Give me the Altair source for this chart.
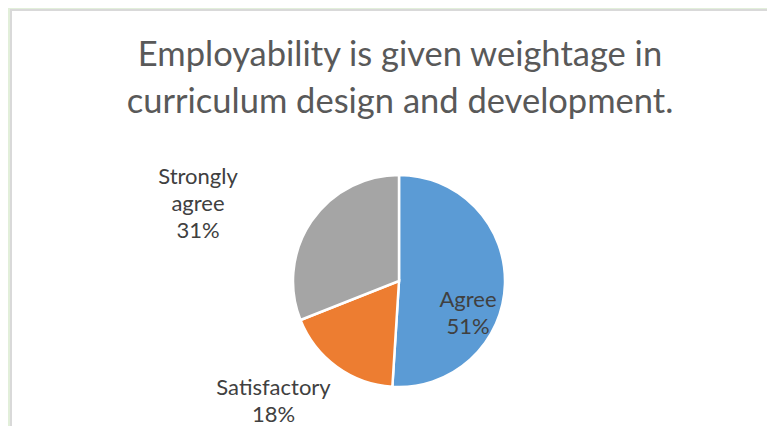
import altair as alt
import pandas as pd

# ---- data ----
categories = ["Agree", "Satisfactory", "Strongly agree"]
percentages = [51, 18, 31]
slice_colors = ["#5b9bd5", "#ed7d31", "#a5a5a5"]
title_lines = ["Employability is given weightage in", "curriculum design and development."]

df = pd.DataFrame({"category": categories, "value": percentages, "order": list(range(len(categories)))})
title_df = pd.DataFrame({"line": title_lines, "idx": list(range(len(title_lines)))})

# ---- layout (chart coordinates; page offset is 8px) ----
W, H = 759, 418
FONT = "Lato"
TITLE_FS = 34.5
LABEL_FS = 22
LABEL_LH = 27
CX, CY, R = 391, 273, 106
GREEN = "#e2efda"
BORDER = "#d9d9d9"

one = alt.Data(values=[{"a": 1}])

green_left = alt.Chart(one).mark_rect(fill=GREEN).encode(
    x=alt.value(0), x2=alt.value(2), y=alt.value(0), y2=alt.value(H)
)
green_top = alt.Chart(one).mark_rect(fill=GREEN).encode(
    x=alt.value(0), x2=alt.value(W), y=alt.value(0), y2=alt.value(1)
)
border_left = alt.Chart(one).mark_rule(color=BORDER, strokeWidth=2).encode(
    x=alt.value(3), y=alt.value(1), y2=alt.value(H)
)
border_top = alt.Chart(one).mark_rule(color=BORDER, strokeWidth=2).encode(
    x=alt.value(2), x2=alt.value(W), y=alt.value(2)
)

title = alt.Chart(title_df).mark_text(
    font=FONT, fontSize=TITLE_FS, color="#595959", align="center", baseline="alphabetic"
).transform_calculate(
    ypix="58 + datum.idx * 47"
).encode(
    x=alt.value(392),
    y=alt.Y("ypix:Q", scale=None),
    text="line:N",
)

pie = alt.Chart(df).mark_arc(outerRadius=R, stroke="white", strokeWidth=2.5).encode(
    theta=alt.Theta("value:Q", stack=True),
    order=alt.Order("order:Q"),
    color=alt.Color("category:N", scale=alt.Scale(domain=categories, range=slice_colors), legend=None),
    x=alt.value(CX),
    y=alt.value(CY),
)

# label positions: (center x, first baseline y) in chart coordinates
label_pos = {
    "Agree": (460, 299),
    "Satisfactory": (265.5, 387),
    "Strongly agree": (190, 176),
}

labels = []
for cat, (lx, ly) in label_pos.items():
    labels.append(
        alt.Chart(df).transform_filter(alt.datum.category == cat).transform_calculate(
            label="datum.category + ' ' + datum.value + '%'"
        ).mark_text(
            font=FONT, fontSize=LABEL_FS, color="#404040", align="center", baseline="top",
            lineBreak=" ", lineHeight=LABEL_LH,
        ).encode(
            x=alt.value(lx),
            y=alt.value(ly - round(0.79 * LABEL_FS)),
            text="label:N",
        )
    )

chart = alt.layer(green_left, green_top, border_left, border_top, title, pie, *labels).properties(
    width=W, height=H, background="white", padding=0,
    autosize=alt.AutoSizeParams(type="none"),
).configure_view(stroke=None)

chart.save("out.html", embed_options={"renderer": "svg", "actions": False})
